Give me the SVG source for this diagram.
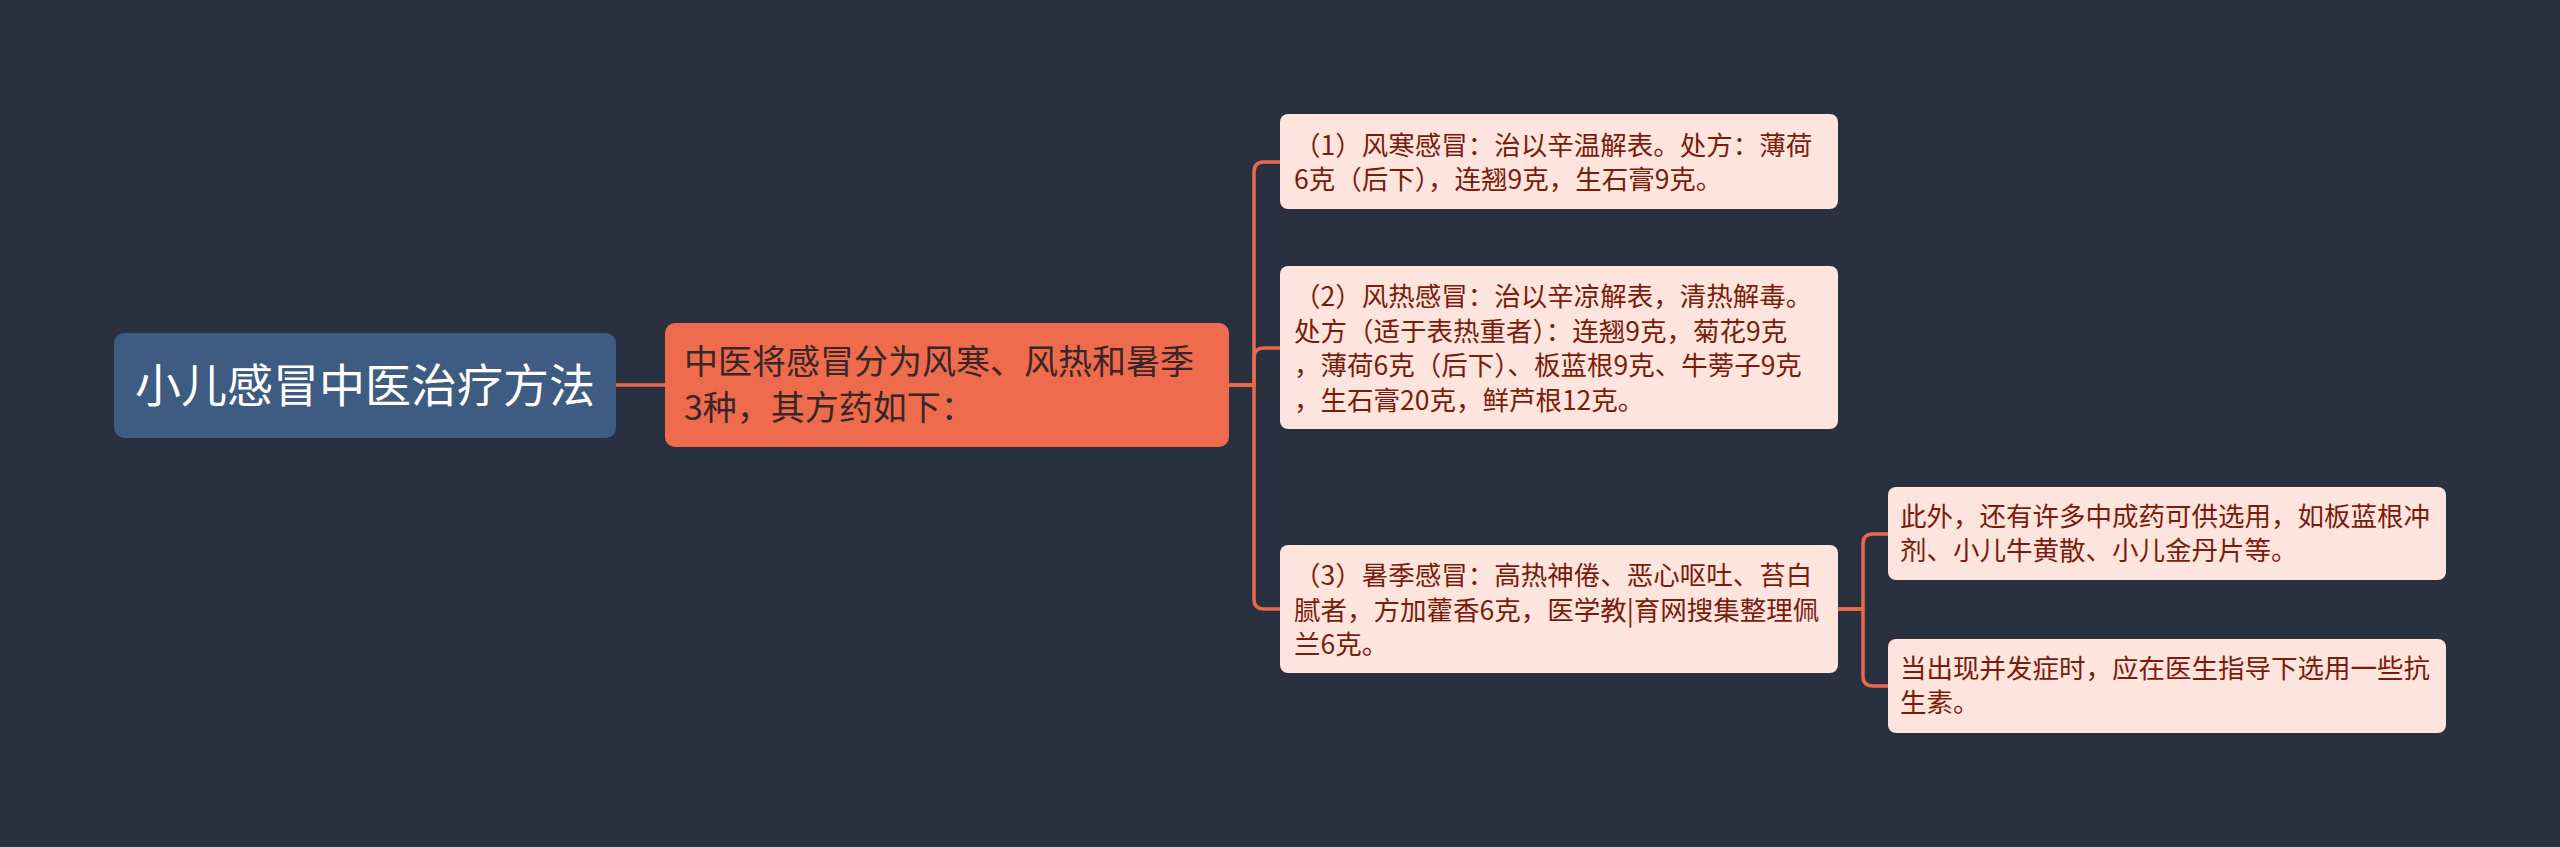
<svg xmlns="http://www.w3.org/2000/svg" width="2560" height="847" viewBox="0 0 2560 847">
<style>
.bg{fill:#293140}
.root{fill:#3e5b81}
.main{fill:#ee6b4d}
.leaf{fill:#fde4dd}
.t{font-family:"Noto Sans CJK SC","Noto Sans",sans-serif}
.rt{font-size:46px;fill:#ffffff}
.mt{font-size:34px;fill:#3a2626}
.lt{font-size:26.5px;fill:#7a1c0c}
.c{fill:none;stroke:#e8694b;stroke-width:3.5;stroke-linejoin:round}
</style>
<rect class="bg" x="0" y="0" width="2560" height="847"/>
<g id="connectors">
<path class="c" d="M616 385 H665"/>
<path class="c" d="M1229 385 H1254 V172 Q1254 162 1264 162 H1280"/>
<path class="c" d="M1229 385 H1254 V358 Q1254 348 1264 348 H1280"/>
<path class="c" d="M1229 385 H1254 V599 Q1254 609 1264 609 H1280"/>
<path class="c" d="M1838 609 H1863 V544 Q1863 534 1873 534 H1888"/>
<path class="c" d="M1838 609 H1863 V676 Q1863 686 1873 686 H1888"/>
</g>
<g id="root">
<rect class="root" x="114" y="333" width="502" height="105" rx="10"/>
<text class="t rt" x="365" y="402" text-anchor="middle">小儿感冒中医治疗方法</text>
</g>
<g id="main">
<rect class="main" x="665" y="323" width="564" height="124" rx="10"/>
<text class="t mt" x="684" y="374">中医将感冒分为风寒、风热和暑季</text>
<text class="t mt" x="684" y="420">3种，其方药如下：</text>
</g>
<g id="child1">
<rect class="leaf" x="1280" y="114" width="558" height="95" rx="8"/>
<text class="t lt" x="1294" y="155">（1）风寒感冒：治以辛温解表。处方：薄荷</text>
<text class="t lt" x="1294" y="189">6克（后下），连翘9克，生石膏9克。</text>
</g>
<g id="child2">
<rect class="leaf" x="1280" y="266" width="558" height="163" rx="8"/>
<text class="t lt" x="1294" y="306">（2）风热感冒：治以辛凉解表，清热解毒。</text>
<text class="t lt" x="1294" y="340.5">处方（适于表热重者）：连翘9克，菊花9克</text>
<text class="t lt" x="1294" y="375">，薄荷6克（后下）、板蓝根9克、牛蒡子9克</text>
<text class="t lt" x="1294" y="409.5">，生石膏20克，鲜芦根12克。</text>
</g>
<g id="child3">
<rect class="leaf" x="1280" y="545" width="558" height="128" rx="8"/>
<text class="t lt" x="1294" y="585">（3）暑季感冒：高热神倦、恶心呕吐、苔白</text>
<text class="t lt" x="1294" y="619.5">腻者，方加藿香6克，医学教|育网搜集整理佩</text>
<text class="t lt" x="1294" y="654">兰6克。</text>
</g>
<g id="grandchild1">
<rect class="leaf" x="1888" y="487" width="558" height="93" rx="8"/>
<text class="t lt" x="1900" y="526">此外，还有许多中成药可供选用，如板蓝根冲</text>
<text class="t lt" x="1900" y="560">剂、小儿牛黄散、小儿金丹片等。</text>
</g>
<g id="grandchild2">
<rect class="leaf" x="1888" y="639" width="558" height="94" rx="8"/>
<text class="t lt" x="1900" y="678">当出现并发症时，应在医生指导下选用一些抗</text>
<text class="t lt" x="1900" y="712">生素。</text>
</g>
</svg>
